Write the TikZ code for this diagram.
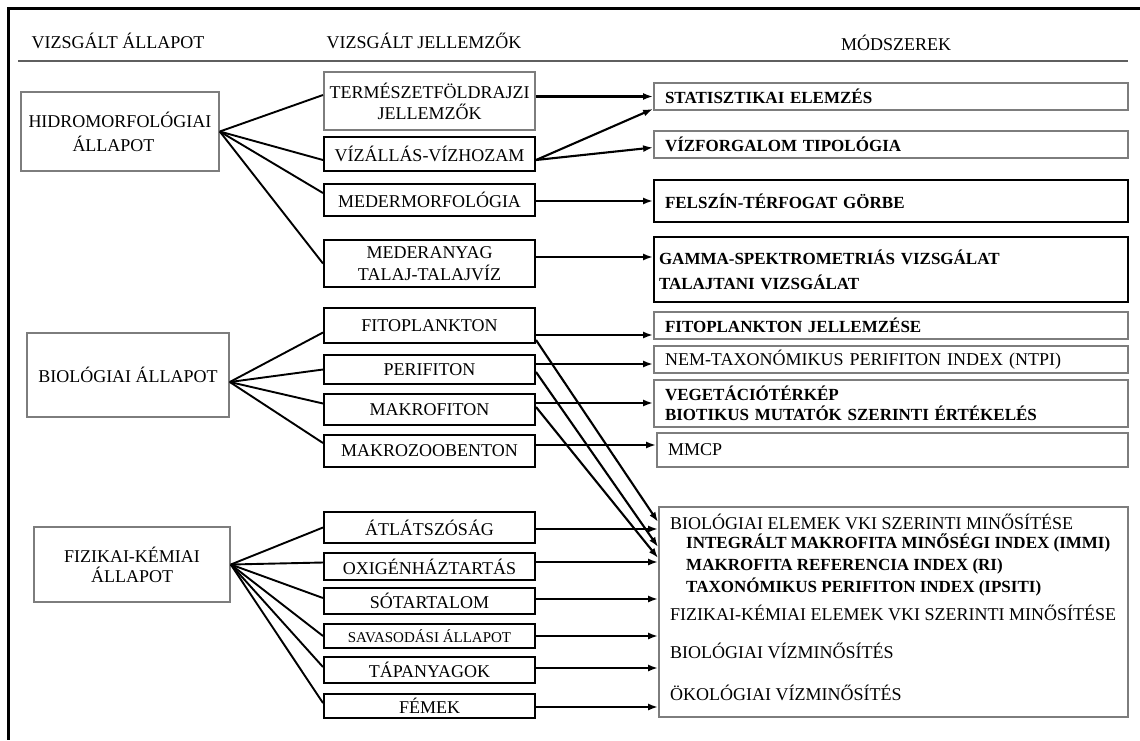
\documentclass[tikz,border=0pt]{standalone}
\usepackage{fontspec}
\setmainfont{Liberation Serif}
\usepackage{tikz}
\usetikzlibrary{arrows.meta}
\usetikzlibrary{calc}
\usetikzlibrary{positioning}
\definecolor{boxgray}{RGB}{125,125,125}
\definecolor{rulegray}{RGB}{95,95,95}
\tikzset{
	txt/.style={font=\fontsize{18}{21}\selectfont, inner sep=0pt},
	boldtxt/.style={font=\fontsize{17}{20}\selectfont\bfseries},
	statebox/.style={draw=boxgray, line width=1.6pt, align=center, inner sep=0pt, font=\fontsize{18}{24}\selectfont},
	featbox/.style={draw=black, line width=2pt, minimum width=211pt, align=center, inner sep=0pt, font=\fontsize{18}{21}\selectfont},
	methbox/.style={draw=boxgray, line width=1.8pt, text width=452pt, inner xsep=11pt, inner ysep=0pt, align=left, font=\fontsize{18}{21}\selectfont},
	link/.style={line width=1.9pt},
	arr/.style={line width=2.1pt, -{Latex[length=10pt,width=7pt]}}
}

\begin{document}
\begin{tikzpicture}[x=1pt, y=-1pt]
		\useasboundingbox (0,0) rectangle (1140,740);
		\draw[line width=3pt] (1140,8) -- (8,8) -- (8,740);
		\draw[rulegray, line width=2pt] (18,61) -- (1128,61);
		% column titles
		\node[txt] (h1) at (118,41) {VIZSGÁLT ÁLLAPOT};
		\node[txt] (h2) at (424,41) {VIZSGÁLT JELLEMZŐK};
		\node[txt] (h3) at (896,43) {MÓDSZEREK};
		% states
		\node[statebox, minimum width=198pt, minimum height=79pt, align=left] (hidro) at (120,131.5) {HIDROMORFOLÓGIAI\\\hspace*{44pt}ÁLLAPOT};
		\node[statebox, minimum width=202pt, minimum height=84pt] (bio) at (128,375) {BIOLÓGIAI ÁLLAPOT};
		\node[statebox, minimum width=196pt, minimum height=75pt, align=left, font=\fontsize{18}{20}\selectfont] (fiz) at (132,564.5) {FIZIKAI-KÉMIAI\\\hspace*{27pt}ÁLLAPOT};
		% features
		\node[featbox, draw=boxgray, minimum height=58pt] (term) at (429.5,101) {TERMÉSZETFÖLDRAJZI\\JELLEMZŐK};
		\node[featbox, minimum height=34pt] (vizall) at (429.5,154) {VÍZÁLLÁS-VÍZHOZAM};
		\node[featbox, minimum height=32pt] (mederm) at (429.5,200) {MEDERMORFOLÓGIA};
		\node[featbox, minimum height=47pt, font=\fontsize{18}{22}\selectfont] (medera) at (429.5,263.5) {MEDERANYAG\\TALAJ-TALAJVÍZ};
		\node[featbox, minimum height=35pt] (fito) at (429.5,325.5) {FITOPLANKTON};
		\node[featbox, minimum height=29pt] (peri) at (429.5,369.5) {PERIFITON};
		\node[featbox, minimum height=31pt] (makrof) at (429.5,409.5) {MAKROFITON};
		\node[featbox, minimum height=32pt] (makroz) at (429.5,451) {MAKROZOOBENTON};
		\node[featbox, minimum height=31pt] (atl) at (429.5,527.5) {ÁTLÁTSZÓSÁG};
		\node[featbox, minimum height=27pt] (oxi) at (429.5,566.5) {OXIGÉNHÁZTARTÁS};
		\node[featbox, minimum height=26pt] (so) at (429.5,601) {SÓTARTALOM};
		\node[featbox, minimum height=24pt, font=\fontsize{15}{18}\selectfont] (savas) at (429.5,636) {SAVASODÁSI ÁLLAPOT};
		\node[featbox, minimum height=26pt] (tap) at (429.5,670) {TÁPANYAGOK};
		\node[featbox, minimum height=24pt] (fem) at (429.5,706) {FÉMEK};
		% methods
		\node[methbox, boldtxt, minimum height=27pt] (stat) at (891,96.5) {STATISZTIKAI ELEMZÉS};
		\node[methbox, boldtxt, minimum height=27pt] (vizf) at (891,144.5) {VÍZFORGALOM TIPOLÓGIA};
		\node[methbox, boldtxt, draw=black, minimum height=42pt] (felsz) at (891,201) {FELSZÍN-TÉRFOGAT GÖRBE};
		\node[methbox, boldtxt, draw=black, minimum height=65pt, inner xsep=5pt, text width=464pt] (gamma) at (891,269.5) {GAMMA-SPEKTROMETRIÁS VIZSGÁLAT\\[5pt]TALAJTANI VIZSGÁLAT};
		\node[methbox, boldtxt, minimum height=27pt] (fitoj) at (891,325.5) {FITOPLANKTON JELLEMZÉSE};
		\node[methbox, minimum height=27pt] (nem) at (891,359.5) {NEM-TAXONÓMIKUS PERIFITON INDEX (NTPI)};
		\node[methbox, boldtxt, minimum height=47pt] (veg) at (891,403.5) {VEGETÁCIÓTÉRKÉP\\BIOTIKUS MUTATÓK SZERINTI ÉRTÉKELÉS};
		\node[methbox, minimum height=34pt, text width=449pt] (mmcp) at (892.5,450) {MMCP};
		\node[methbox, minimum height=210pt, text width=447pt] (big) at (893.5,612) {};
		\node[txt, anchor=west] (q1) at (670,522) {BIOLÓGIAI ELEMEK VKI SZERINTI MINŐSÍTÉSE};
		\node[txt, boldtxt, anchor=west] (q2) at (686,543) {INTEGRÁLT MAKROFITA MINŐSÉGI INDEX (IMMI)};
		\node[txt, boldtxt, anchor=west] (q3) at (686,566) {MAKROFITA REFERENCIA INDEX (RI)};
		\node[txt, boldtxt, anchor=west] (q4) at (686,587) {TAXONÓMIKUS PERIFITON INDEX (IPSITI)};
		\node[txt, anchor=west] (q5) at (670,613) {FIZIKAI-KÉMIAI ELEMEK VKI SZERINTI MINŐSÍTÉSE};
		\node[txt, anchor=west] (q6) at (670,651) {BIOLÓGIAI VÍZMINŐSÍTÉS};
		\node[txt, anchor=west] (q7) at (670,693) {ÖKOLÓGIAI VÍZMINŐSÍTÉS};
		% state -> feature
		\coordinate (bioR) at ($(bio.east)+(0,7)$);
		\draw[link] (hidro.east) -- ([yshift=6pt]term.west);
		\draw[link] (hidro.east) -- ([yshift=-6pt]vizall.west);
		\draw[link] (hidro.east) -- ([yshift=7pt]mederm.west);
		\draw[link] (hidro.east) -- (medera.west);
		\draw[link] (bioR) -- ([yshift=-7pt]fito.west);
		\draw[link] (bioR) -- (peri.west);
		\draw[link] (bioR) -- ([yshift=6pt]makrof.west);
		\draw[link] (bioR) -- ([yshift=8pt]makroz.west);
		\draw[link] (fiz.east) -- (atl.west);
		\draw[link] (fiz.east) -- ([yshift=4pt]oxi.west);
		\draw[link] (fiz.east) -- ([yshift=3pt]so.west);
		\draw[link] (fiz.east) -- (savas.west);
		\draw[link] (fiz.east) -- ([yshift=3pt]tap.west);
		\draw[link] (fiz.east) -- ([yshift=3pt]fem.west);
		% feature -> method
		\draw[arr] (stat.west -| term.east) -- (stat.west);
		\draw[arr] ([yshift=-6pt]vizall.east) -- ([yshift=2pt]stat.south west);
		\draw[arr] ([yshift=-6pt]vizall.east) -- ([yshift=-3pt]vizf.west);
		\draw[arr] (felsz.west -| mederm.east) -- (felsz.west);
		\draw[arr] (medera.east |- 0,257) -- (gamma.west |- 0,257);
		\draw[arr] (fito.east |- 0,335) -- (fitoj.west |- 0,335);
		\draw[arr] (peri.east |- 0,364) -- (nem.west |- 0,364);
		\draw[arr] (makrof.east |- 0,403) -- (veg.west |- 0,403);
		\draw[arr] (makroz.east |- 0,445) -- (mmcp.west |- 0,445);
		\draw[arr] (fito.east |- 0,340) -- (big.west |- 0,522);
		\draw[arr] (peri.east |- 0,372) -- (big.west |- 0,547);
		\draw[arr] (makrof.east |- 0,407) -- (big.west |- 0,558);
		\draw[arr] (atl.east |- 0,529) -- (big.west |- 0,529);
		\draw[arr] (oxi.east |- 0,562) -- (big.west |- 0,562);
		\draw[arr] (so.east |- 0,599) -- (big.west |- 0,599);
		\draw[arr] (savas.east |- 0,636) -- (big.west |- 0,636);
		\draw[arr] (tap.east |- 0,668) -- (big.west |- 0,668);
		\draw[arr] (fem.east |- 0,707) -- (big.west |- 0,707);
	\end{tikzpicture}
\end{document}
